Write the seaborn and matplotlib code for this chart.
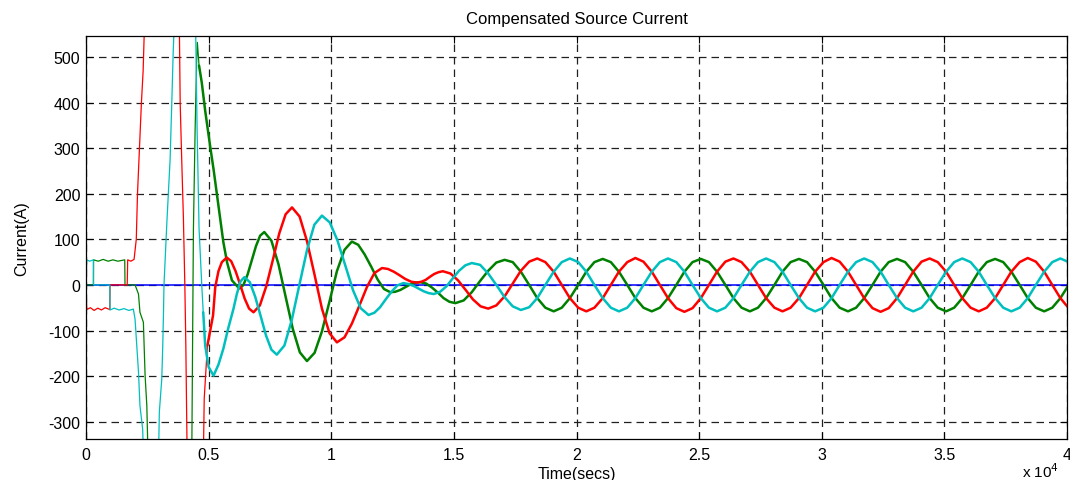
import numpy as np
import matplotlib
matplotlib.use("Agg")
import matplotlib.pyplot as plt
import seaborn as sns

# ---------------- data (x in units of 1e4 samples, current in A) ----------------
x_ticks = [0, 0.5, 1, 1.5, 2, 2.5, 3, 3.5, 4]
x_tick_labels = ["0", "0.5", "1", "1.5", "2", "2.5", "3", "3.5", "4"]
y_ticks = [-300, -200, -100, 0, 100, 200, 300, 400, 500]

# blue (neutral) trace
t_blue = [0.0, 4.0]
i_blue = [0, 0]

# red phase: start-up part (thin) and transient part
t_red_a = [0.000, 0.003, 0.018, 0.033, 0.048, 0.063, 0.078, 0.097, 0.098, 0.168, 0.170, 0.183,
           0.196, 0.205, 0.210, 0.218, 0.226, 0.233, 0.240, 0.380, 0.384, 0.390, 0.397, 0.403,
           0.407, 0.413, 0.478, 0.482, 0.495]
i_red_a = [0, -54, -50, -56, -51, -55, -50, -54, 0, 0, 55, 52,
           56, 100, 200, 300, 400, 470, 600, 600, 400, 280, 150, 0,
           -130, -400, -400, -250, -133]
t_red_b = [0.495, 0.510, 0.518, 0.527, 0.540, 0.554, 0.574, 0.592, 0.610, 0.629, 0.647, 0.665,
           0.683, 0.709, 0.735, 0.762, 0.788, 0.814, 0.840, 0.871, 0.901, 0.932, 0.962, 0.993,
           1.023, 1.054, 1.084, 1.115, 1.146, 1.176, 1.207, 1.231, 1.255, 1.279, 1.302, 1.326,
           1.350, 1.368, 1.385, 1.403, 1.420, 1.438, 1.455, 1.486, 1.517, 1.548, 1.578, 1.609,
           1.640, 1.673, 1.707, 1.740, 1.773, 1.807]
i_red_b = [-133, -90, -67, -5, 30, 50, 60, 52, 30, 0, -30, -52,
           -60, -45, -3, 55, 113, 155, 170, 150, 96, 22, -52, -106,
           -126, -115, -85, -45, -4, 26, 37, 35, 29, 21, 13, 7,
           5, 7, 11, 18, 24, 28, 30, 25, 10, -11, -32, -47,
           -52, -45, -25, 3, 31, 51]

# green phase
t_grn_a = [0.000, 0.030, 0.031, 0.050, 0.070, 0.090, 0.110, 0.130, 0.158, 0.159, 0.200, 0.214,
           0.220, 0.234, 0.237, 0.241, 0.248, 0.254, 0.431, 0.435, 0.438, 0.445, 0.451, 0.454,
           0.461]
i_grn_a = [0, 0, 55, 52, 56, 52, 55, 52, 55, 0, 0, -20,
           -60, -82, -133, -199, -265, -400, -400, -96, 123, 342, 488, 532,
           481]
t_grn_b = [0.461, 0.472, 0.486, 0.506, 0.520, 0.540, 0.560, 0.575, 0.595, 0.625, 0.642, 0.659,
           0.676, 0.693, 0.710, 0.727, 0.756, 0.785, 0.814, 0.843, 0.872, 0.901, 0.932, 0.962,
           0.993, 1.023, 1.054, 1.084, 1.110, 1.136, 1.163, 1.189, 1.215, 1.241, 1.261, 1.282,
           1.302, 1.322, 1.343, 1.363, 1.387, 1.411, 1.435, 1.458, 1.482, 1.506, 1.540, 1.573,
           1.606, 1.640, 1.673, 1.707, 1.740, 1.773, 1.807]
i_grn_b = [481, 444, 382, 305, 254, 174, 94, 50, 10, -8, 0, 23,
           54, 85, 108, 116, 97, 45, -26, -96, -148, -167, -149, -102,
           -36, 30, 77, 95, 88, 67, 40, 12, -9, -16, -15, -11,
           -5, 1, 5, 6, 3, -6, -17, -29, -37, -40, -34, -16,
           8, 31, 49, 55, 50, 29, 0]

# cyan phase
t_cyn_a = [0.000, 0.003, 0.015, 0.030, 0.031, 0.097, 0.098, 0.115, 0.135, 0.155, 0.175, 0.193,
           0.200, 0.207, 0.214, 0.220, 0.231, 0.236, 0.295, 0.299, 0.309, 0.313, 0.316, 0.318,
           0.330, 0.343, 0.347, 0.351, 0.354, 0.356, 0.362, 0.446, 0.453, 0.461, 0.472, 0.478]
i_cyn_a = [0, 55, 52, 55, 0, 0, -55, -51, -55, -52, -56, -53,
           -75, -133, -191, -265, -316, -400, -400, -279, -206, -133, -60, 0,
           140, 276, 349, 422, 481, 518, 600, 600, 342, 123, 0, -60]
t_cyn_b = [0.478, 0.486, 0.500, 0.520, 0.540, 0.560, 0.580, 0.601, 0.615, 0.630, 0.646, 0.668,
           0.690, 0.712, 0.734, 0.756, 0.778, 0.809, 0.839, 0.870, 0.901, 0.931, 0.962, 0.994,
           1.025, 1.057, 1.089, 1.120, 1.152, 1.176, 1.199, 1.223, 1.247, 1.270, 1.294, 1.315,
           1.335, 1.356, 1.377, 1.397, 1.418, 1.444, 1.470, 1.495, 1.521, 1.547, 1.573, 1.607,
           1.640, 1.673, 1.707, 1.740, 1.773, 1.807]
i_cyn_b = [-60, -133, -180, -199, -175, -140, -95, -53, -20, 8, 17, 6,
           -26, -68, -111, -142, -153, -133, -77, 0, 76, 132, 152, 137,
           98, 43, -12, -51, -66, -61, -49, -31, -14, -1, 4, 2,
           -2, -8, -14, -18, -20, -15, -3, 14, 31, 43, 48, 44,
           25, 0, -27, -47, -55, -49]

# steady state (shared time samples)
t_steady = [1.840, 1.873, 1.907, 1.940, 1.973, 2.007, 2.040, 2.073, 2.107, 2.140, 2.173, 2.207,
            2.240, 2.273, 2.307, 2.340, 2.373, 2.407, 2.440, 2.473, 2.507, 2.540, 2.573, 2.607,
            2.640, 2.673, 2.707, 2.740, 2.773, 2.807, 2.840, 2.873, 2.907, 2.940, 2.973, 3.007,
            3.040, 3.073, 3.107, 3.140, 3.173, 3.207, 3.240, 3.273, 3.307, 3.340, 3.373, 3.407,
            3.440, 3.473, 3.507, 3.540, 3.573, 3.607, 3.640, 3.673, 3.707, 3.740, 3.773, 3.807,
            3.840, 3.873, 3.907, 3.940, 3.973, 4.007]
i_red_ss = [58, 50, 29, 0, -29, -50, -58, -50, -29, 0, 29, 50,
            59, 51, 29, 0, -29, -51, -59, -51, -29, 0, 29, 51,
            58, 50, 29, 0, -29, -50, -58, -50, -29, 0, 29, 50,
            59, 51, 29, 0, -29, -51, -59, -51, -29, 0, 29, 51,
            58, 50, 29, 0, -29, -50, -58, -50, -29, 0, 29, 50,
            59, 51, 29, 0, -29, -51]
i_grn_ss = [-29, -50, -58, -50, -29, 0, 29, 50, 57, 50, 29, 0,
            -29, -50, -58, -50, -29, 0, 29, 50, 57, 50, 29, 0,
            -29, -50, -58, -50, -29, 0, 29, 50, 57, 50, 29, 0,
            -29, -50, -58, -50, -29, 0, 29, 50, 57, 50, 29, 0,
            -29, -50, -58, -50, -29, 0, 29, 50, 57, 50, 29, 0,
            -29, -50, -58, -50, -29, 0]
i_cyn_ss = [-29, 0, 29, 50, 58, 50, 29, 0, -29, -50, -58, -50,
            -29, 0, 29, 50, 58, 50, 29, 0, -29, -50, -58, -50,
            -29, 0, 29, 50, 58, 50, 29, 0, -29, -50, -58, -50,
            -29, 0, 29, 50, 58, 50, 29, 0, -29, -50, -58, -50,
            -29, 0, 29, 50, 58, 50, 29, 0, -29, -50, -58, -50,
            -29, 0, 29, 50, 58, 50]

# ---------------- styling ----------------
sns.set_theme(style="ticks")
plt.rcParams["font.family"] = ["Liberation Sans", "DejaVu Sans"]

W, H = 1070, 481
fig = plt.figure(figsize=(W / 100, H / 100), dpi=100)
fig.patch.set_facecolor("white")
ax = fig.add_axes([86 / W, 1 - 440 / H, (1067 - 86) / W, (440 - 37) / H])
ax.set_facecolor("white")

RED, GRN, CYN, BLU = "#ff0000", "#008000", "#00bfbf", "#0000ff"


def draw(t, v, color, lw):
    sns.lineplot(x=t, y=v, color=color, linewidth=lw, sort=False,
                 estimator=None, ax=ax, legend=False)


draw(t_blue, i_blue, BLU, 1.1)
draw(t_grn_a, i_grn_a, GRN, 0.9)
draw(t_red_a, i_red_a, RED, 0.9)
draw(t_cyn_a, i_cyn_a, CYN, 0.9)
draw(np.concatenate([t_grn_b, t_steady]), np.concatenate([i_grn_b, i_grn_ss]), GRN, 1.8)
draw(np.concatenate([t_red_b, t_steady]), np.concatenate([i_red_b, i_red_ss]), RED, 1.8)
draw(np.concatenate([t_cyn_b, t_steady]), np.concatenate([i_cyn_b, i_cyn_ss]), CYN, 1.8)

ax.set_xlim(0, 4)
ax.set_ylim(-338, 546)
ax.set_xticks(x_ticks)
ax.set_xticklabels(x_tick_labels)
ax.set_yticks(y_ticks)
ax.set_yticklabels([str(v) for v in y_ticks])

ax.grid(True, color="#202020", linestyle=(0, (6, 4)), linewidth=0.9)
ax.set_axisbelow(True)
for s in ax.spines.values():
    s.set_color("black")
    s.set_linewidth(0.9)
    s.set_visible(True)

ax.tick_params(axis="both", direction="in", top=True, right=True, length=5,
               width=0.8, colors="black", labelsize=11.5)
ax.tick_params(axis="x", pad=6)
ax.tick_params(axis="y", pad=4)

ax.set_title("Compensated Source Current", fontsize=12, pad=9, color="black")
ax.set_xlabel("Time(secs)", fontsize=11.5, labelpad=3, color="black")
ax.set_ylabel("Current(A)", fontsize=11.5, labelpad=14, color="black")

fig.text(1022 / W, 3 / H, r"x 10$^{4}$", fontsize=11, ha="left", va="baseline",
         color="black")

fig.savefig("out.png", dpi=100)
